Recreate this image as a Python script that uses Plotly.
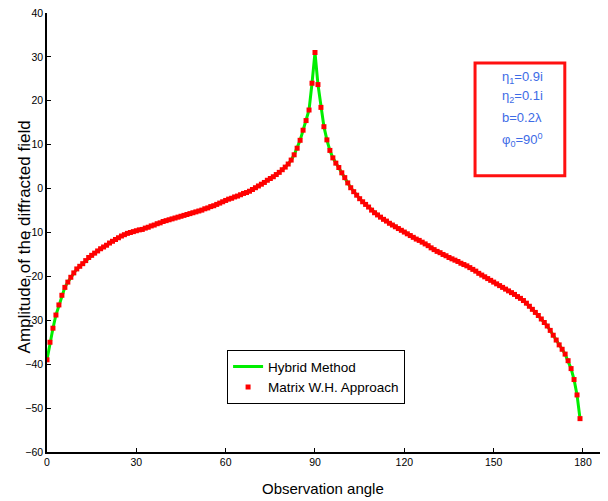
import plotly.graph_objects as go

# Observation angle (degrees), 1-degree steps from 0 to 179
angle = list(range(0, 180))
# Amplitude of the diffracted field
hybrid = [
    -39.0, -35.0, -31.8, -28.8, -26.5, -24.3, -22.5, -21.3, -20.2, -19.2,   # 0-9
    -18.3, -17.7, -17.1, -16.4, -15.7, -15.2, -14.7, -14.2, -13.7, -13.3,   # 10-19
    -12.9, -12.4, -12.0, -11.6, -11.2, -10.8, -10.5, -10.2, -10.0, -9.8,    # 20-29
    -9.6, -9.4, -9.3, -9.0, -8.8, -8.5, -8.3, -8.0, -7.8, -7.5,             # 30-39
    -7.3, -7.1, -6.9, -6.7, -6.5, -6.3, -6.1, -5.9, -5.7, -5.5,             # 40-49
    -5.3, -5.1, -4.9, -4.6, -4.4, -4.1, -3.9, -3.6, -3.3, -3.0,             # 50-59
    -2.7, -2.4, -2.2, -1.9, -1.7, -1.4, -1.1, -0.9, -0.6, -0.2,             # 60-69
    0.2, 0.6, 1.0, 1.4, 1.9, 2.3, 2.7, 3.2, 3.7, 4.3,                       # 70-79
    4.9, 5.6, 6.5, 7.7, 9.2, 11.0, 13.3, 15.5, 17.9, 24.0,                  # 80-89
    31.0, 23.7, 18.5, 14.1, 11.1, 8.7, 7.0, 5.8, 4.8, 3.6,                  # 90-99
    2.5, 1.3, 0.2, -0.7, -1.5, -2.3, -3.0, -3.6, -4.2, -4.9,                # 100-109
    -5.5, -6.0, -6.5, -7.0, -7.4, -7.9, -8.3, -8.7, -9.1, -9.5,             # 110-119
    -9.9, -10.3, -10.7, -11.1, -11.5, -11.8, -12.2, -12.6, -13.0, -13.5,    # 120-129
    -13.9, -14.3, -14.6, -15.0, -15.3, -15.7, -16.0, -16.3, -16.6, -17.0,   # 130-139
    -17.3, -17.6, -18.0, -18.4, -18.8, -19.3, -19.7, -20.1, -20.5, -20.9,   # 140-149
    -21.3, -21.7, -22.1, -22.5, -22.9, -23.3, -23.7, -24.1, -24.6, -25.0,   # 150-159
    -25.5, -26.1, -26.8, -27.5, -28.2, -28.9, -29.7, -30.5, -31.3, -32.3,   # 160-169
    -33.4, -34.5, -35.6, -36.6, -37.7, -39.2, -41.0, -43.5, -47.0, -52.4,   # 170-179
]
matrix_wh = list(hybrid)

x_ticks = [0, 30, 60, 90, 120, 150, 180]
y_ticks = [-60, -50, -40, -30, -20, -10, 0, 10, 20, 30, 40]

FONT = "Liberation Sans, Arial, sans-serif"

fig = go.Figure()
fig.add_trace(go.Scatter(x=angle, y=hybrid, mode="lines", name="Hybrid Method",
                         line=dict(color="#00ee00", width=3)))
fig.add_trace(go.Scatter(x=angle, y=matrix_wh, mode="markers", name="Matrix W.H. Approach",
                         marker=dict(symbol="square", size=5, color="#ff0000", line=dict(width=0))))

axis_font = dict(family=FONT, size=10.5, color="black")
# page body has an 8px margin: figure is offset by (8, 8) inside the window
fig.update_layout(
    width=600, height=493,
    margin=dict(l=39, r=0, t=5, b=49, autoexpand=False),
    paper_bgcolor="white", plot_bgcolor="white",
    showlegend=True,
    legend=dict(x=0.321, y=0.232, xanchor="left", yanchor="top",
                bordercolor="black", borderwidth=1, bgcolor="white",
                font=dict(family=FONT, size=13.5, color="black"),
                itemwidth=30, tracegroupgap=0),
    xaxis=dict(range=[0, 188.4], tickvals=x_ticks, ticks="inside", ticklen=4,
               showline=True, linecolor="black", linewidth=1.5, tickcolor="black",
               showgrid=False, zeroline=False, tickfont=axis_font, automargin=False,
               ticklabeloverflow="allow"),
    yaxis=dict(range=[-60, 40], tickvals=y_ticks, ticks="inside", ticklen=4,
               showline=True, linecolor="black", linewidth=1.5, tickcolor="black",
               showgrid=False, zeroline=False, tickfont=axis_font, automargin=False,
               ticklabeloverflow="allow"),
)

fig.add_annotation(text="Observation angle", xref="paper", yref="paper",
                   x=0.492, y=-0.084, xanchor="center", yanchor="middle",
                   showarrow=False, font=dict(family=FONT, size=15, color="black"))
fig.add_annotation(text="Amplitude of the diffracted field", xref="paper", yref="paper",
                   x=-0.04, y=0.49, xanchor="center", yanchor="middle", textangle=-90,
                   showarrow=False, font=dict(family=FONT, size=17, color="black"))

fig.add_shape(type="rect", xref="paper", yref="paper", x0=0.763, x1=0.923, y0=0.629, y1=0.886,
              line=dict(color="#ff1010", width=3), fillcolor="rgba(0,0,0,0)")
box_lines = ["η<sub>1</sub>=0.9i", "η<sub>2</sub>=0.1i", "b=0.2λ", "φ<sub>0</sub>=90<sup>0</sup>"]
box_y = [0.854, 0.809, 0.761, 0.711]
for t, yy in zip(box_lines, box_y):
    fig.add_annotation(text=t, xref="paper", yref="paper", x=0.847, y=yy,
                       xanchor="center", yanchor="middle", showarrow=False,
                       font=dict(family=FONT, size=13, color="#3d6be6"))

fig.write_html("out.html")
